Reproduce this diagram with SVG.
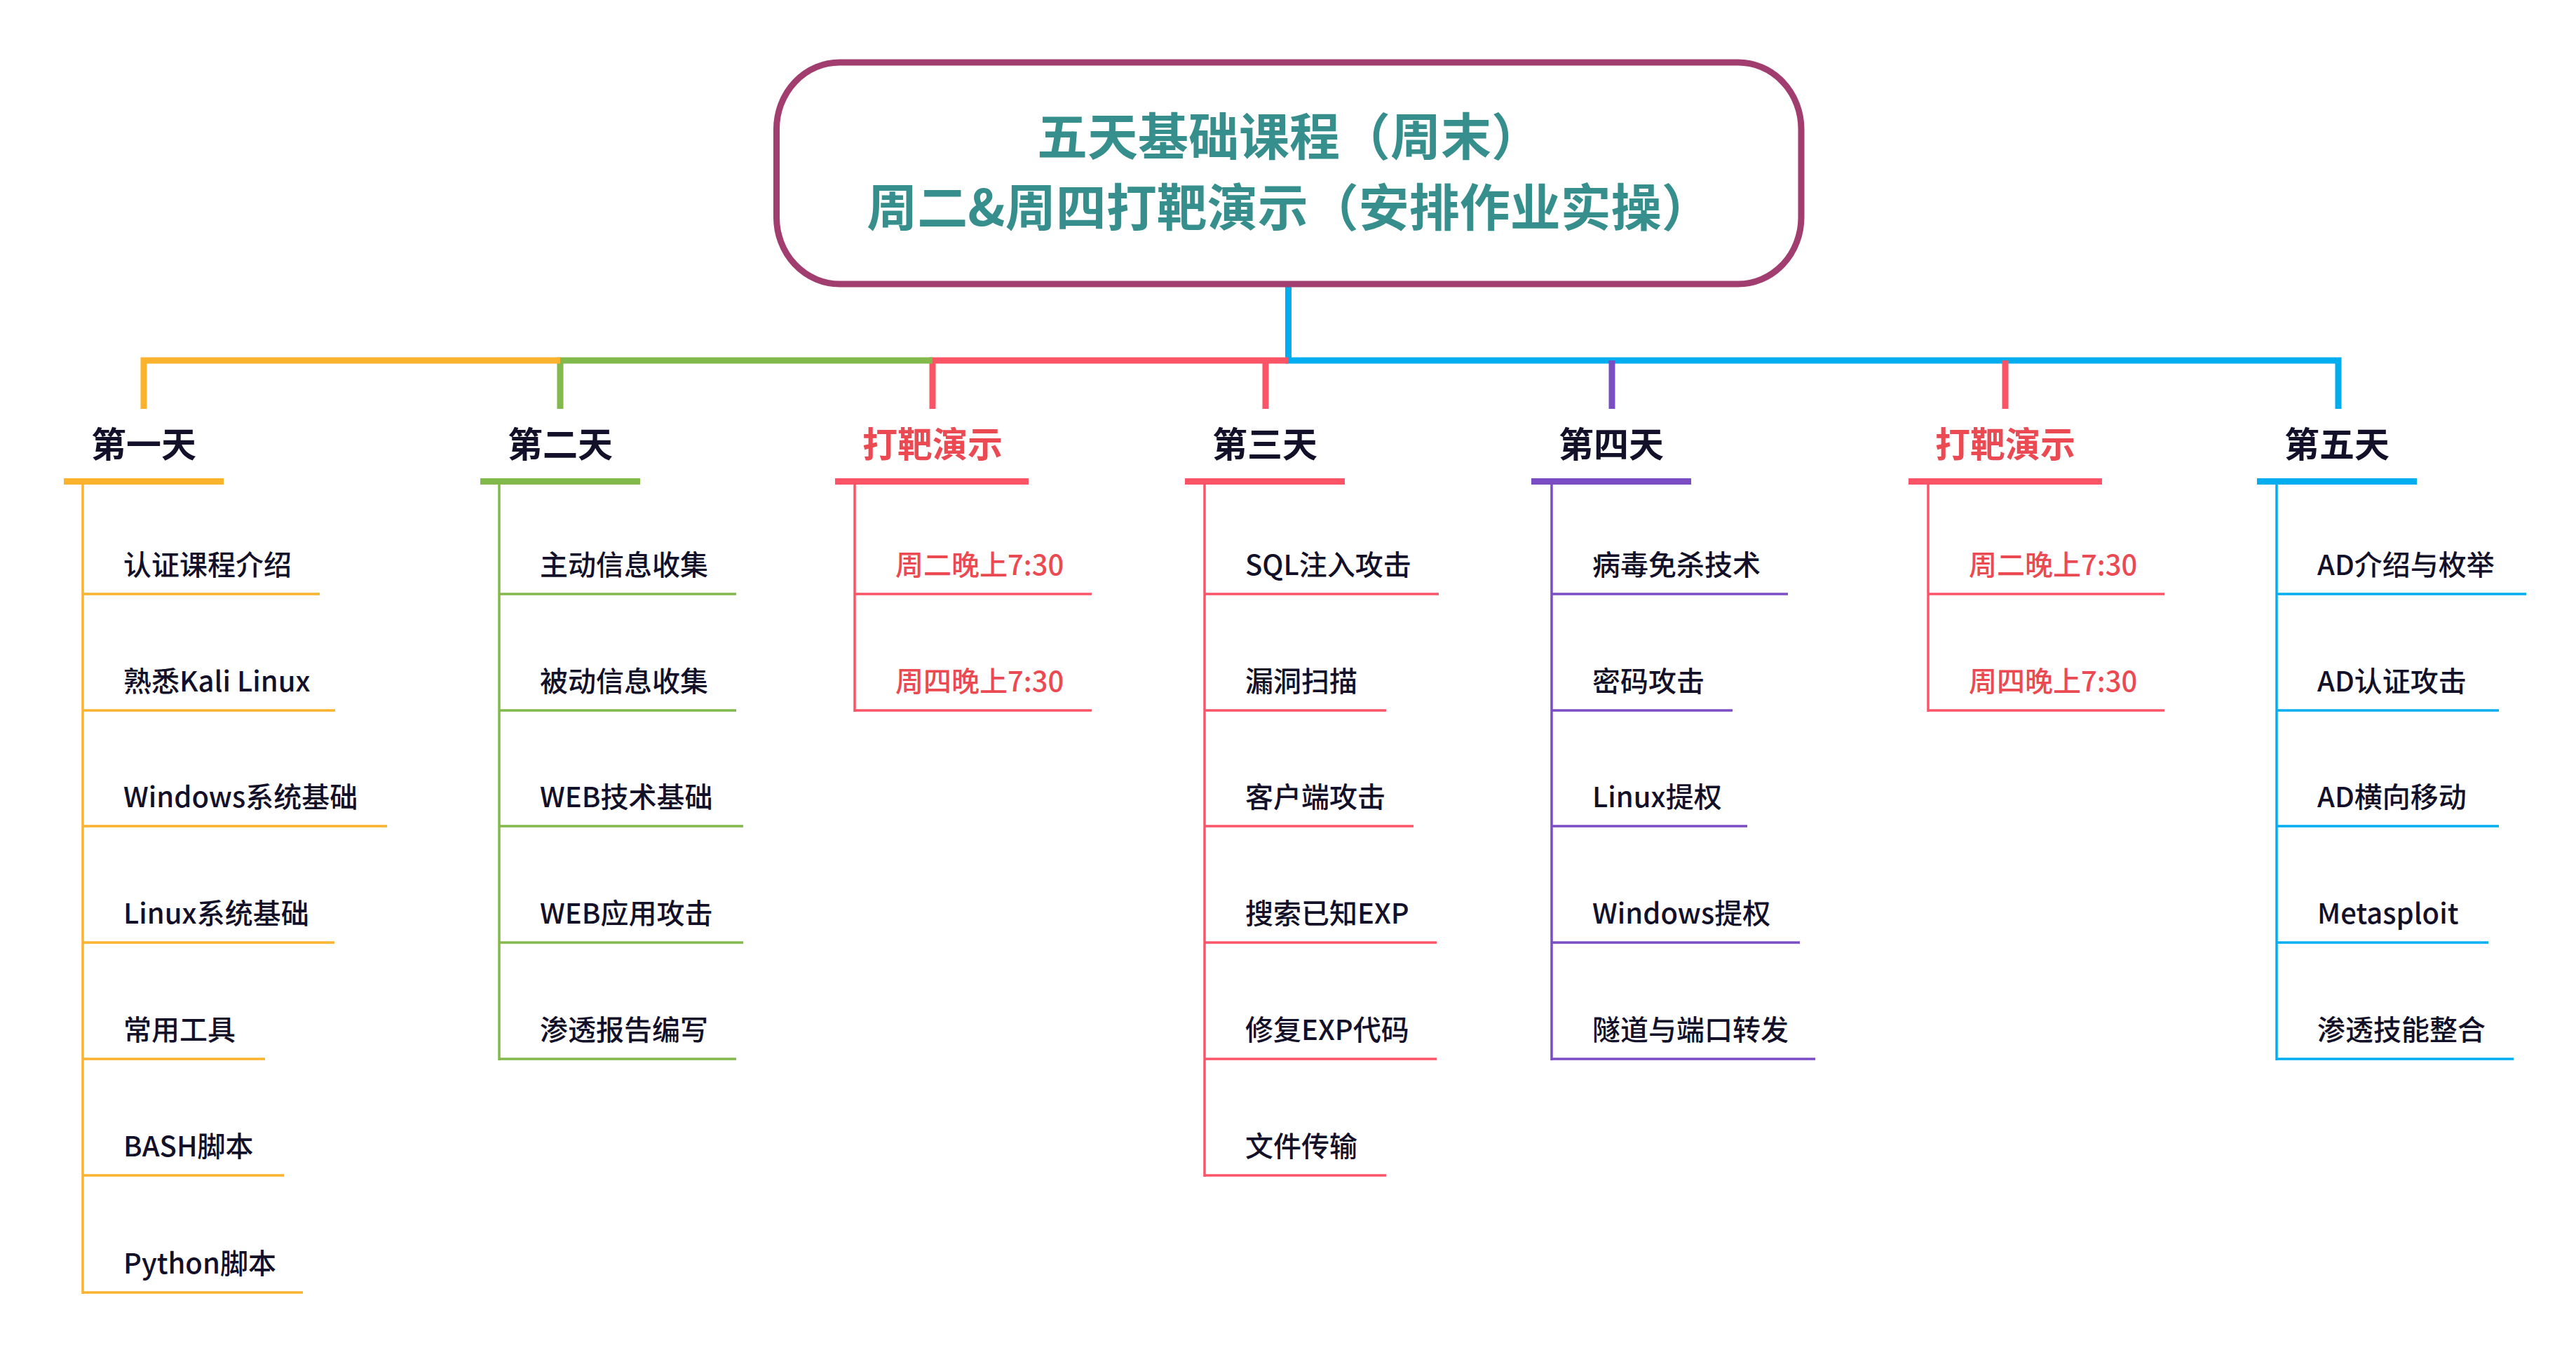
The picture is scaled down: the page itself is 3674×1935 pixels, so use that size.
<svg xmlns="http://www.w3.org/2000/svg" width="3674" height="1935" viewBox="0 0 3674 1935">
<style>
.bg{fill:#ffffff}
.title{font-family:"Noto Sans CJK SC","Microsoft YaHei",sans-serif;font-size:72px;font-weight:700;fill:#368F8C;text-anchor:middle}
.day{font-family:"Noto Sans CJK SC","Microsoft YaHei",sans-serif;font-size:50px;font-weight:700;fill:#13112A;text-anchor:middle}
.demo{font-family:"Noto Sans CJK SC","Microsoft YaHei",sans-serif;font-size:50px;font-weight:700;fill:#EB4A52;text-anchor:middle}
.item{font-family:"Noto Sans CJK SC","Microsoft YaHei",sans-serif;font-size:40px;font-weight:500;fill:#13112A}
.ditem{font-family:"Noto Sans CJK SC","Microsoft YaHei",sans-serif;font-size:40px;font-weight:500;fill:#EB4A52}
.bus{fill:none;stroke-width:9;stroke-linejoin:miter;stroke-linecap:butt}
.thin{fill:none;stroke-width:3.5}
.o{stroke:#FBB22C}.of{fill:#FBB22C}
.g{stroke:#82B94B}.gf{fill:#82B94B}
.r{stroke:#FA5466}.rf{fill:#FA5466}
.b{stroke:#00ADEF}.bf{fill:#00ADEF}
.p{stroke:#7B4DC5}.pf{fill:#7B4DC5}
</style>
<rect class="bg" x="0" y="0" width="3674" height="1935"/>

<g id="connectors">
  <path class="bus b" d="M1837.5,409 V514 H3335 V583"/>
  <path class="bus r" d="M1837.5,514 H1330 V583"/>
  <path class="bus r" d="M1805,514 V583"/>
  <path class="bus g" d="M1330,514 H799 V583"/>
  <path class="bus o" d="M799,514 H205 V583"/>
  <path class="bus p" d="M2299,514 V583"/>
  <path class="bus r" d="M2860,514 V583"/>
</g>

<g id="root">
  <rect x="1107.5" y="89" width="1461.5" height="316" rx="90" ry="95" fill="#ffffff" stroke="#A23D6F" stroke-width="9"/>
  <text class="title" x="1839" y="221">五天基础课程（周末）</text>
  <text class="title" x="1839" y="322">周二&amp;周四打靶演示（安排作业实操）</text>
</g>

<g id="day1">
  <text class="day" x="205" y="652">第一天</text>
  <rect class="of" x="91" y="682" width="228" height="9"/>
  <path class="thin o" d="M118,691 V1845"/>
  <g id="day1-1"><text class="item" x="176" y="820">认证课程介绍</text><path class="thin o" d="M118,847 H456"/></g>
  <g id="day1-2"><text class="item" x="176" y="986">熟悉Kali Linux</text><path class="thin o" d="M118,1013 H478"/></g>
  <g id="day1-3"><text class="item" x="176" y="1151">Windows系统基础</text><path class="thin o" d="M118,1178 H552"/></g>
  <g id="day1-4"><text class="item" x="176" y="1317">Linux系统基础</text><path class="thin o" d="M118,1344 H477"/></g>
  <g id="day1-5"><text class="item" x="176" y="1483">常用工具</text><path class="thin o" d="M118,1510 H378"/></g>
  <g id="day1-6"><text class="item" x="176" y="1649">BASH脚本</text><path class="thin o" d="M118,1676 H405"/></g>
  <g id="day1-7"><text class="item" x="176" y="1816">Python脚本</text><path class="thin o" d="M118,1843 H432"/></g>
</g>

<g id="day2">
  <text class="day" x="799" y="652">第二天</text>
  <rect class="gf" x="685" y="682" width="228" height="9"/>
  <path class="thin g" d="M712,691 V1512"/>
  <g id="day2-1"><text class="item" x="770" y="820">主动信息收集</text><path class="thin g" d="M712,847 H1050"/></g>
  <g id="day2-2"><text class="item" x="770" y="986">被动信息收集</text><path class="thin g" d="M712,1013 H1050"/></g>
  <g id="day2-3"><text class="item" x="770" y="1151">WEB技术基础</text><path class="thin g" d="M712,1178 H1060"/></g>
  <g id="day2-4"><text class="item" x="770" y="1317">WEB应用攻击</text><path class="thin g" d="M712,1344 H1060"/></g>
  <g id="day2-5"><text class="item" x="770" y="1483">渗透报告编写</text><path class="thin g" d="M712,1510 H1050"/></g>
</g>

<g id="demo1">
  <text class="demo" x="1330" y="652">打靶演示</text>
  <rect class="rf" x="1191" y="682" width="276" height="9"/>
  <path class="thin r" d="M1219,691 V1015"/>
  <g id="demo1-1"><text class="ditem" x="1277" y="820">周二晚上7:30</text><path class="thin r" d="M1219,847 H1557"/></g>
  <g id="demo1-2"><text class="ditem" x="1277" y="986">周四晚上7:30</text><path class="thin r" d="M1219,1013 H1557"/></g>
</g>

<g id="day3">
  <text class="day" x="1804" y="652">第三天</text>
  <rect class="rf" x="1690" y="682" width="228" height="9"/>
  <path class="thin r" d="M1718,691 V1678"/>
  <g id="day3-1"><text class="item" x="1776" y="820">SQL注入攻击</text><path class="thin r" d="M1718,847 H2052"/></g>
  <g id="day3-2"><text class="item" x="1776" y="986">漏洞扫描</text><path class="thin r" d="M1718,1013 H1977"/></g>
  <g id="day3-3"><text class="item" x="1776" y="1151">客户端攻击</text><path class="thin r" d="M1718,1178 H2016"/></g>
  <g id="day3-4"><text class="item" x="1776" y="1317">搜索已知EXP</text><path class="thin r" d="M1718,1344 H2049"/></g>
  <g id="day3-5"><text class="item" x="1776" y="1483">修复EXP代码</text><path class="thin r" d="M1718,1510 H2049"/></g>
  <g id="day3-6"><text class="item" x="1776" y="1649">文件传输</text><path class="thin r" d="M1718,1676 H1977"/></g>
</g>

<g id="day4">
  <text class="day" x="2298" y="652">第四天</text>
  <rect class="pf" x="2184" y="682" width="228" height="9"/>
  <path class="thin p" d="M2213,691 V1512"/>
  <g id="day4-1"><text class="item" x="2271" y="820">病毒免杀技术</text><path class="thin p" d="M2213,847 H2550"/></g>
  <g id="day4-2"><text class="item" x="2271" y="986">密码攻击</text><path class="thin p" d="M2213,1013 H2471"/></g>
  <g id="day4-3"><text class="item" x="2271" y="1151">Linux提权</text><path class="thin p" d="M2213,1178 H2492"/></g>
  <g id="day4-4"><text class="item" x="2271" y="1317">Windows提权</text><path class="thin p" d="M2213,1344 H2567"/></g>
  <g id="day4-5"><text class="item" x="2271" y="1483">隧道与端口转发</text><path class="thin p" d="M2213,1510 H2589"/></g>
</g>

<g id="demo2">
  <text class="demo" x="2860" y="652">打靶演示</text>
  <rect class="rf" x="2722" y="682" width="276" height="9"/>
  <path class="thin r" d="M2750,691 V1015"/>
  <g id="demo2-1"><text class="ditem" x="2808" y="820">周二晚上7:30</text><path class="thin r" d="M2750,847 H3087"/></g>
  <g id="demo2-2"><text class="ditem" x="2808" y="986">周四晚上7:30</text><path class="thin r" d="M2750,1013 H3087"/></g>
</g>

<g id="day5">
  <text class="day" x="3333" y="652">第五天</text>
  <rect class="bf" x="3219" y="682" width="228" height="9"/>
  <path class="thin b" d="M3247,691 V1512"/>
  <g id="day5-1"><text class="item" x="3305" y="820">AD介绍与枚举</text><path class="thin b" d="M3247,847 H3603"/></g>
  <g id="day5-2"><text class="item" x="3305" y="986">AD认证攻击</text><path class="thin b" d="M3247,1013 H3564"/></g>
  <g id="day5-3"><text class="item" x="3305" y="1151">AD横向移动</text><path class="thin b" d="M3247,1178 H3564"/></g>
  <g id="day5-4"><text class="item" x="3305" y="1317">Metasploit</text><path class="thin b" d="M3247,1344 H3549"/></g>
  <g id="day5-5"><text class="item" x="3305" y="1483">渗透技能整合</text><path class="thin b" d="M3247,1510 H3585"/></g>
</g>
</svg>
